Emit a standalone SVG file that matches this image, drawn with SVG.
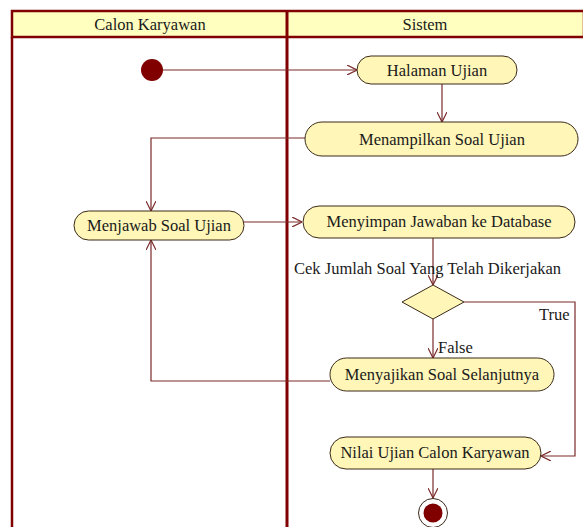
<svg xmlns="http://www.w3.org/2000/svg" width="583" height="527" viewBox="0 0 583 527">
<style>
.lane{fill:none;stroke:#800000;stroke-width:2.5}
.hdr{fill:#FFFFC0;stroke:#800000;stroke-width:2.5}
.node{fill:#FFF6B8;stroke:#3a2a1a;stroke-width:1}
.t{font-family:"Liberation Serif","Times New Roman",serif;font-size:16.5px;fill:#1a1a1a;text-anchor:middle;dominant-baseline:central}
.lbl{font-family:"Liberation Serif","Times New Roman",serif;font-size:16.5px;fill:#1a1a1a}
.c{fill:none;stroke:#7a2a2a;stroke-width:1.2}
</style>
<defs>
<marker id="ah" viewBox="0 0 10 10" refX="10" refY="5" markerWidth="10" markerHeight="10" markerUnits="userSpaceOnUse" orient="auto">
<path d="M0,0 L10,5 L0,10" fill="none" stroke="#7a2a2a" stroke-width="1.2"/>
</marker>
</defs>
<rect width="583" height="527" fill="#ffffff"/>
<g id="swimlanes">
<rect class="hdr" x="12" y="11" width="572" height="26"/>
<line class="lane" x1="12" y1="37" x2="12" y2="527"/>
<line class="lane" x1="287" y1="11" x2="287" y2="527" style="stroke-width:3"/>
<text class="t" x="150" y="24">Calon Karyawan</text>
<text class="t" x="425" y="24">Sistem</text>
</g>
<g id="connectors">
<line class="c" x1="163" y1="70" x2="357" y2="70" marker-end="url(#ah)"/>
<line class="c" x1="442" y1="84" x2="442" y2="122" marker-end="url(#ah)"/>
<polyline class="c" points="305,138 151,138 151,211" marker-end="url(#ah)"/>
<line class="c" x1="243" y1="222" x2="302" y2="222" marker-end="url(#ah)"/>
<line class="c" x1="433" y1="238" x2="433" y2="285" marker-end="url(#ah)"/>
<line class="c" x1="433" y1="319" x2="433" y2="358" marker-end="url(#ah)"/>
<polyline class="c" points="464,302 575,302 575,456 541,456" marker-end="url(#ah)"/>
<polyline class="c" points="330,381 151,381 151,240" marker-end="url(#ah)"/>
<line class="c" x1="433" y1="469" x2="433" y2="498" marker-end="url(#ah)"/>
<text class="lbl" x="294" y="274">Cek Jumlah Soal Yang Telah Dikerjakan</text>
<text class="lbl" x="438" y="353">False</text>
<text class="lbl" x="539" y="320">True</text>
</g>
<g id="start"><circle cx="152" cy="70" r="11" fill="#800000"/></g>
<g id="halaman"><rect class="node" x="357" y="56" width="160" height="28" rx="14"/><text class="t" x="437" y="70">Halaman Ujian</text></g>
<g id="menampilkan"><rect class="node" x="305" y="122" width="273" height="34" rx="17"/><text class="t" x="442" y="139">Menampilkan Soal Ujian</text></g>
<g id="menjawab"><rect class="node" x="74" y="211" width="170" height="29" rx="14.5"/><text class="t" x="159" y="225">Menjawab Soal Ujian</text></g>
<g id="menyimpan"><rect class="node" x="303" y="206" width="272" height="32" rx="16"/><text class="t" x="439" y="221">Menyimpan Jawaban ke Database</text></g>
<g id="decision"><polygon class="node" points="433,285 464,302 433,319 402,302"/></g>
<g id="menyajikan"><rect class="node" x="330" y="358" width="224" height="33" rx="16.5"/><text class="t" x="442" y="374">Menyajikan Soal Selanjutnya</text></g>
<g id="nilai"><rect class="node" x="330" y="437" width="211" height="32" rx="16"/><text class="t" x="435" y="452">Nilai Ujian Calon Karyawan</text></g>
<g id="end"><circle cx="433" cy="513" r="14.5" fill="#ffffff" stroke="#3a2a1a" stroke-width="1"/><circle cx="433" cy="513" r="9.5" fill="#800000"/></g>
</svg>
